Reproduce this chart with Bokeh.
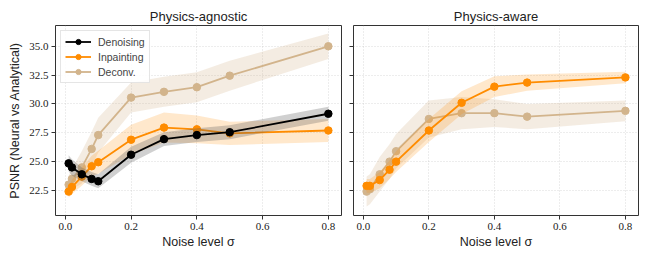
from bokeh.plotting import figure
from bokeh.layouts import row
from bokeh.models import Range1d, FixedTicker, PrintfTickFormatter, CustomJSTickFormatter
from bokeh.embed import file_html
from bokeh.resources import INLINE

# ---- data ----
sigma = [0.01, 0.02, 0.05, 0.08, 0.1, 0.2, 0.3, 0.4, 0.5, 0.8]

# Physics-agnostic
ag_den = [24.85, 24.5, 23.9, 23.5, 23.3, 25.6, 26.95, 27.3, 27.55, 29.15]
ag_den_sd = [0.7, 0.7, 0.6, 0.6, 0.6, 0.7, 0.6, 0.6, 0.6, 0.6]
ag_inp = [22.4, 22.8, 23.7, 24.6, 24.95, 26.9, 27.95, 27.8, 27.45, 27.7]
ag_inp_sd = [0.5, 0.6, 0.8, 0.9, 1.0, 1.3, 1.3, 1.2, 1.0, 1.0]
ag_dec = [23.0, 23.5, 24.5, 26.1, 27.3, 30.55, 31.05, 31.45, 32.45, 35.0]
ag_dec_sd = [0.8, 0.9, 1.4, 1.5, 1.5, 1.3, 1.3, 1.3, 1.3, 1.1]

# Physics-aware
aw_inp = [22.9, 22.9, 23.4, 24.3, 25.0, 27.7, 30.1, 31.5, 31.85, 32.3]
aw_inp_sd = [0.6, 0.6, 0.7, 0.8, 0.9, 1.0, 1.0, 0.9, 0.7, 0.5]
aw_dec = [22.4, 22.6, 23.9, 25.0, 25.9, 28.7, 29.2, 29.2, 28.9, 29.4]
aw_dec_sd = [1.3, 1.3, 1.5, 1.5, 1.5, 1.6, 1.4, 1.2, 1.1, 0.9]

x_ticks = [0.0, 0.2, 0.4, 0.6, 0.8]
y_ticks = [22.5, 25.0, 27.5, 30.0, 32.5, 35.0]

BLACK = "#000000"
ORANGE = "#ff8c00"
TAN = "#d2b48c"

SANS = "Liberation Sans"
SERIF = "Liberation Serif"

x_range = Range1d(-0.03, 0.84)
y_range = Range1d(20.33, 36.8)


def make_fig(title, width, left, right, show_ylab):
    p = figure(width=width, height=255, x_range=x_range, y_range=y_range,
               output_backend="svg", toolbar_location=None,
               min_border_left=left, min_border_right=right,
               min_border_top=25, min_border_bottom=40)
    p.title.text = title
    p.title.align = "center"
    p.title.text_font = SANS
    p.title.text_font_size = "13px"
    p.title.text_font_style = "normal"
    p.title.text_color = "#222222"
    p.title.offset = 0
    p.title.standoff = 4
    p.outline_line_color = "#333333"
    p.outline_line_width = 1
    p.outline_line_alpha = 1
    for ax in (p.xaxis, p.yaxis):
        ax.axis_line_color = None
        ax.major_tick_line_color = "#333333"
        ax.major_tick_out = 4
        ax.major_tick_in = 0
        ax.minor_tick_line_color = None
        ax.major_label_text_font = SERIF
        ax.major_label_text_font_size = "11px"
        ax.major_label_text_color = "#222222"
        ax.axis_label_text_font = SANS
        ax.axis_label_text_font_size = "12.5px"
        ax.axis_label_text_font_style = "normal"
        ax.axis_label_text_color = "#222222"
    p.xaxis.ticker = FixedTicker(ticks=x_ticks)
    p.yaxis.ticker = FixedTicker(ticks=y_ticks)
    p.xaxis.formatter = PrintfTickFormatter(format="%.1f")
    p.xaxis.axis_label = "Noise level σ"
    p.xaxis.axis_label_standoff = 2
    p.xaxis.major_label_standoff = 3
    if show_ylab:
        p.yaxis.formatter = PrintfTickFormatter(format="%.1f")
        p.yaxis.axis_label = "PSNR (Neural vs Analytical)"
        p.yaxis.axis_label_standoff = 4
        p.yaxis.major_label_standoff = 3
    else:
        p.yaxis.formatter = CustomJSTickFormatter(code="return ''")
        p.yaxis.major_label_standoff = 0
    p.grid.grid_line_color = "#b0b0b0"
    p.grid.grid_line_alpha = 0.6
    p.grid.grid_line_dash = "1 2"
    p.grid.grid_line_width = 0.8
    return p


def add_series(p, y, sd, color, band_color, band_alpha, label=None):
    lo = [a - b for a, b in zip(y, sd)]
    hi = [a + b for a, b in zip(y, sd)]
    p.varea(x=sigma, y1=lo, y2=hi, fill_color=band_color, fill_alpha=band_alpha)
    kw = {"legend_label": label} if label else {}
    p.line(sigma, y, line_color=color, line_width=1.8, **kw)
    p.scatter(sigma, y, size=7.5, fill_color=color, line_color=color, **kw)


p1 = make_fig("Physics-agnostic", 347, 55, 6, True)
add_series(p1, ag_dec, ag_dec_sd, TAN, TAN, 0.25, "Deconv.")
add_series(p1, ag_inp, ag_inp_sd, ORANGE, ORANGE, 0.2, "Inpainting")
add_series(p1, ag_den, ag_den_sd, BLACK, "#555555", 0.28, "Denoising")

# reorder legend items
items = p1.legend[0].items
order = {"Denoising": 0, "Inpainting": 1, "Deconv.": 2}
p1.legend[0].items = sorted(items, key=lambda it: order[it.label.value])
lg = p1.legend[0]
lg.location = "top_left"
lg.margin = 5
lg.padding = 4
lg.spacing = 2
lg.label_text_font = SANS
lg.label_text_font_size = "10.5px"
lg.label_height = 13
lg.glyph_height = 13
lg.glyph_width = 26
lg.label_standoff = 7
lg.border_line_color = "#cccccc"
lg.border_line_width = 1
lg.background_fill_alpha = 0.85

p2 = make_fig("Physics-aware", 293, 6, 2, False)
add_series(p2, aw_dec, aw_dec_sd, TAN, TAN, 0.25)
add_series(p2, aw_inp, aw_inp_sd, ORANGE, ORANGE, 0.2)

layout = row(p1, p2)
open("out.html", "w").write(file_html(layout, INLINE))
